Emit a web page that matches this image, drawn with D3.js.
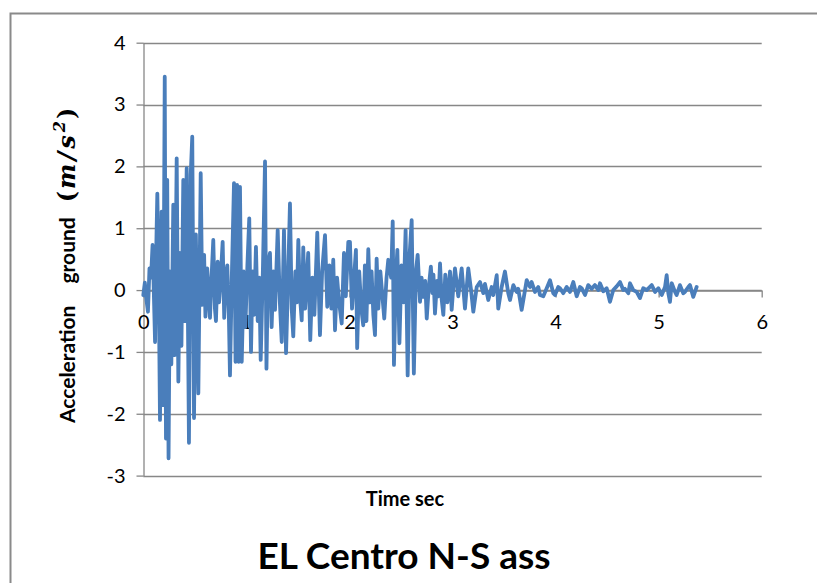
<!DOCTYPE html>
<html>
<head>
<meta charset="utf-8">
<script src="https://cdn.jsdelivr.net/npm/d3@7"></script>
<style>
  html, body { margin: 0; padding: 0; background: #fff; }
  svg { display: block; }
</style>
</head>
<body>
<svg id="chart" width="817" height="583"></svg>
<script>
// Time instants (s) of the turning points read from the record
const times = [
  0.000, 0.015, 0.030, 0.045, 0.060, 0.075, 0.090, 0.100, 0.114, 0.125,
  0.136, 0.148, 0.162, 0.178, 0.192, 0.208, 0.220, 0.232, 0.245, 0.258,
  0.272, 0.291, 0.305, 0.324, 0.340, 0.355, 0.370, 0.388, 0.402, 0.421,
  0.443, 0.460, 0.475, 0.492, 0.510, 0.534, 0.557, 0.572, 0.590, 0.603,
  0.620, 0.647, 0.662, 0.679, 0.695, 0.705, 0.722, 0.735, 0.748, 0.770,
  0.785, 0.800, 0.815, 0.830, 0.841, 0.860, 0.880, 0.895, 0.910, 0.925,
  0.938, 0.955, 0.975, 0.990, 1.010, 1.028, 1.045, 1.060, 1.075, 1.093,
  1.110, 1.125, 1.139, 1.160, 1.181, 1.195, 1.210, 1.229, 1.245, 1.262,
  1.278, 1.304, 1.325, 1.343, 1.365, 1.385, 1.405, 1.423, 1.440, 1.455,
  1.475, 1.490, 1.504, 1.520, 1.537, 1.552, 1.570, 1.600, 1.620, 1.640,
  1.660, 1.688, 1.714, 1.735, 1.763, 1.785, 1.805, 1.825, 1.843, 1.860,
  1.880, 1.900, 1.925, 1.947, 1.965, 1.989, 2.005, 2.025, 2.045, 2.063,
  2.075, 2.095, 2.115, 2.134, 2.150, 2.165, 2.183, 2.200, 2.215, 2.232,
  2.248, 2.264, 2.280, 2.300, 2.320, 2.338, 2.360, 2.377, 2.405, 2.420,
  2.432, 2.450, 2.465, 2.485, 2.505, 2.525, 2.545, 2.565, 2.585, 2.604,
  2.625, 2.645, 2.662, 2.685, 2.700, 2.717, 2.735, 2.750, 2.770, 2.790,
  2.805, 2.815, 2.830, 2.850, 2.865, 2.879, 2.895, 2.911, 2.930, 2.950,
  2.976, 2.992, 3.010, 3.024, 3.056, 3.089, 3.121, 3.153, 3.180, 3.202,
  3.235, 3.267, 3.299, 3.315, 3.347, 3.380, 3.396, 3.429, 3.444, 3.477,
  3.509, 3.541, 3.558, 3.590, 3.623, 3.638, 3.671, 3.720, 3.752, 3.768,
  3.800, 3.832, 3.849, 3.881, 3.914, 3.946, 3.978, 3.994, 4.026, 4.043,
  4.075, 4.108, 4.140, 4.172, 4.205, 4.237, 4.253, 4.286, 4.317, 4.350,
  4.382, 4.414, 4.431, 4.463, 4.496, 4.528, 4.560, 4.593, 4.625, 4.657,
  4.673, 4.706, 4.722, 4.754, 4.787, 4.819, 4.851, 4.884, 4.933, 4.965,
  4.997, 5.030, 5.062, 5.078, 5.094, 5.110, 5.127, 5.159, 5.175, 5.207,
  5.239, 5.255, 5.288, 5.304, 5.336, 5.369
];
// Ground acceleration (m/s^2) at those instants
const accel = [
  -0.08, 0.12, -0.15, -0.35, 0.35, 0.20, 0.73, 0.10, -0.84, 0.60,
  1.56, 0.40, -2.10, 1.27, -1.86, 3.45, -2.40, 1.78, -2.72, 0.30,
  -1.20, 1.38, -1.05, 2.13, -1.48, 0.60, -0.90, 1.78, -0.50, 1.97,
  -2.47, 1.86, 2.48, -2.07, 0.90, -1.67, 1.89, -0.24, 0.57, -0.43,
  0.35, -0.45, 0.20, 0.81, -0.30, -0.50, 0.46, -0.20, 0.10, 0.78,
  -0.45, 0.20, 0.40, -0.40, -1.38, 0.30, 1.73, -1.16, 1.70, -1.16,
  1.67, -1.16, 0.30, -0.60, 0.40, 1.16, -1.00, 0.30, -0.40, 0.70,
  -0.50, 0.20, -1.13, 0.30, 2.08, -1.27, 0.40, 0.60, -0.60, 0.30,
  -0.32, 0.97, -0.20, -0.84, 0.97, -1.02, 0.20, 1.40, -0.30, -0.75,
  0.30, -0.20, 0.81, -0.10, -0.49, 0.69, -0.30, 0.60, -0.81, 0.20,
  -0.40, 0.93, -0.73, 0.30, 0.89, -0.27, 0.40, -0.30, 0.49, -0.65,
  0.20, -0.20, -0.54, 0.60, -0.10, 0.78, 0.78, -0.30, 0.20, 0.65,
  -0.94, 0.30, -0.30, -0.57, 0.40, -0.50, 0.66, -0.20, 0.30, -0.40,
  -0.73, 0.51, -0.30, 0.30, -0.10, -0.46, 0.20, 0.49, 0.20, 1.11,
  -1.21, 0.20, 0.65, -0.86, 0.40, -0.20, 0.97, -1.38, 0.60, 1.13,
  -1.35, 0.30, 0.57, -0.19, 0.20, -0.11, 0.15, -0.46, 0.05, 0.38,
  -0.05, 0.25, -0.38, 0.15, -0.10, 0.43, -0.15, -0.40, 0.25, -0.20,
  0.30, -0.32, 0.10, 0.35, -0.10, 0.35, -0.30, 0.35, 0.00, -0.35,
  0.05, 0.13, -0.05, 0.10, -0.16, 0.05, -0.08, 0.24, -0.30, 0.05,
  0.30, -0.05, -0.16, 0.08, -0.03, 0.02, -0.32, 0.16, 0.05, 0.13,
  -0.03, 0.05, -0.08, -0.10, 0.03, 0.16, -0.05, -0.08, 0.05, 0.03,
  -0.05, 0.05, -0.03, 0.13, -0.10, 0.05, 0.03, -0.08, 0.08, 0.02,
  0.08, 0.00, 0.11, -0.02, 0.03, -0.19, 0.00, 0.06, 0.13, 0.00,
  0.02, -0.05, 0.11, 0.00, -0.03, -0.13, 0.03, 0.00, 0.08, -0.03,
  0.03, -0.08, 0.05, 0.24, -0.05, -0.19, 0.11, -0.03, -0.08, 0.08,
  -0.05, -0.03, 0.05, 0.08, -0.11, 0.05
];
const xTicks = [0, 1, 2, 3, 4, 5, 6];
const yTicks = [-3, -2, -1, 0, 1, 2, 3, 4];
const titleText = "EL Centro N-S ass";
const xLabelText = "Time sec";
const yLabelWords = ["Acceleration", "ground"];

const svg = d3.select("#chart");
const font = "Lato, 'Open Sans', sans-serif";
const gridColor = "#878787";

// outer frame (cropped at right/bottom)
svg.append("rect")
  .attr("x", 10.5).attr("y", 13.5)
  .attr("width", 830).attr("height", 600)
  .attr("fill", "none").attr("stroke", "#8a8a8a").attr("stroke-width", 2);

const x = d3.scaleLinear().domain([0, 6]).range([143.3, 761.7]);
const y = d3.scaleLinear().domain([-3, 4]).range([475.6, 42.7]);

// horizontal gridlines
svg.append("g").selectAll("line").data(yTicks).join("line")
  .attr("x1", x(0)).attr("x2", x(6))
  .attr("y1", d => Math.round(y(d)) + 0.5).attr("y2", d => Math.round(y(d)) + 0.5)
  .attr("stroke", gridColor).attr("stroke-width", 1.3);

// y axis
const yAxis = d3.axisLeft(y).tickValues(yTicks).tickSize(7).tickSizeOuter(0).tickPadding(11)
  .tickFormat(d => d < 0 ? "-" + Math.abs(d) : String(d));
const gy = svg.append("g").attr("transform", `translate(${Math.round(x(0)) + 0.5},0)`).call(yAxis);
gy.select(".domain").attr("stroke", gridColor).attr("stroke-width", 1.3);
gy.selectAll(".tick line").attr("stroke", gridColor).attr("stroke-width", 1.3);
gy.selectAll(".tick text").attr("font-family", font).attr("font-size", 20).attr("fill", "#000");

// x axis at y=0
const xAxis = d3.axisBottom(x).tickValues(xTicks).tickSize(7).tickSizeOuter(0).tickPadding(17)
  .tickFormat(d => String(d));
const gx = svg.append("g").attr("transform", `translate(0,${Math.round(y(0)) + 0.5})`).call(xAxis);
gx.select(".domain").attr("stroke", gridColor).attr("stroke-width", 1.3);
gx.selectAll(".tick line").attr("stroke", gridColor).attr("stroke-width", 1.3);
gx.selectAll(".tick text").attr("font-family", font).attr("font-size", 20).attr("fill", "#000");

// data line
const pts = times.map((t, i) => [t, accel[i]]);
svg.append("path")
  .datum(pts)
  .attr("fill", "none")
  .attr("stroke", "#4A7EBB")
  .attr("stroke-width", 3.8)
  .attr("stroke-linejoin", "round")
  .attr("stroke-linecap", "round")
  .attr("d", d3.line().x(d => x(d[0])).y(d => y(d[1])));

// y label (rotated; starts at bottom y=422)
const yl = svg.append("text")
  .attr("transform", "translate(75,423) rotate(-90)")
  .attr("text-anchor", "start")
  .attr("font-family", font).attr("font-size", 21).attr("font-weight", "bold")
  .attr("fill", "#000");
yl.append("tspan").text(yLabelWords[0]);
yl.append("tspan").attr("dx", 22).text(yLabelWords[1]);
const mathFont = "'DejaVu Serif', serif";
yl.append("tspan").attr("dx", 15).attr("font-family", mathFont).attr("font-weight", "bold")
  .attr("font-size", 24).text("(");
yl.append("tspan").attr("dx", 2).attr("font-family", mathFont).attr("font-style", "italic")
  .attr("font-weight", "bold").attr("font-size", 24).attr("letter-spacing", 3).text("m/s");
yl.append("tspan").attr("font-family", mathFont).attr("font-style", "italic")
  .attr("font-weight", "bold").attr("font-size", 16).attr("dy", -10).text("2");
yl.append("tspan").attr("dx", 2).attr("font-family", mathFont)
  .attr("font-weight", "bold").attr("font-size", 24).attr("dy", 10).text(")");

// x label
svg.append("text")
  .attr("x", 405).attr("y", 506)
  .attr("text-anchor", "middle")
  .attr("font-family", font).attr("font-size", 20).attr("font-weight", "bold")
  .text(xLabelText);

// title
svg.append("text")
  .attr("x", 404).attr("y", 569)
  .attr("text-anchor", "middle")
  .attr("font-family", font).attr("font-size", 37).attr("font-weight", "bold")
  .text(titleText);
</script>
</body>
</html>
